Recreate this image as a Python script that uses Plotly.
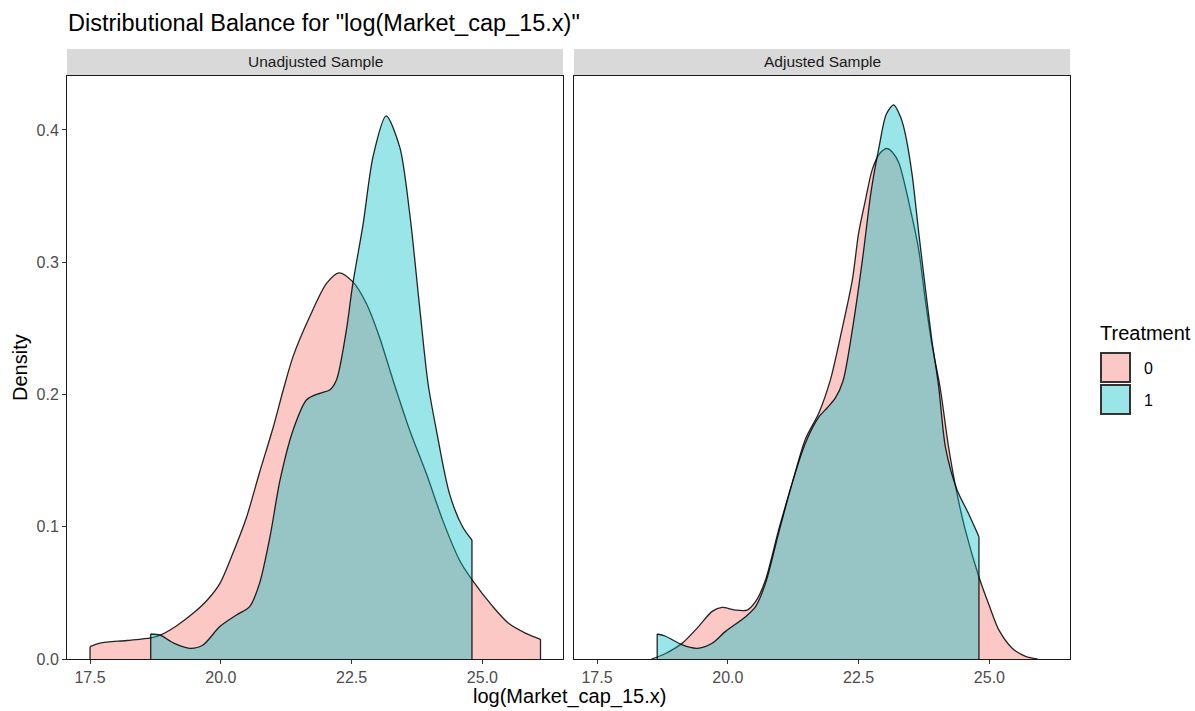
import plotly.graph_objects as go

# ---------------- data ----------------
panels = ["Unadjusted Sample", "Adjusted Sample"]
treatments = ["0", "1"]

unadj_t0_x = [17.5, 17.69, 18.2, 18.66, 18.84, 19.15, 19.47, 19.75, 19.98, 20.23, 20.49, 20.74, 21.0, 21.19,
              21.38, 21.7, 22.02, 22.26, 22.52, 22.78, 23.03, 23.29, 23.61, 23.93, 24.24, 24.56, 24.8, 25.2,
              25.5, 25.83, 26.11]
unadj_t0_y = [0.0093, 0.012, 0.014, 0.016, 0.018, 0.025, 0.0345, 0.045, 0.057, 0.080, 0.107, 0.141, 0.175, 0.203,
              0.2286, 0.2589, 0.284, 0.292, 0.2853, 0.269, 0.2437, 0.211, 0.173, 0.140, 0.105, 0.0749, 0.060, 0.0396,
              0.027, 0.0194, 0.0149]

unadj_t1_x = [18.66, 18.84, 19.1, 19.41, 19.66, 19.98, 20.3, 20.55, 20.74, 20.94, 21.13, 21.38, 21.64, 21.89,
              22.08, 22.21, 22.4, 22.52, 22.72, 22.91, 23.16, 23.42, 23.61, 23.8, 23.96, 24.12, 24.37, 24.62, 24.8]
unadj_t1_y = [0.0189, 0.018, 0.012, 0.0081, 0.0106, 0.0245, 0.0333, 0.0396, 0.0572, 0.0925, 0.135, 0.173, 0.196,
              0.2009, 0.2034, 0.211, 0.2488, 0.283, 0.329, 0.380, 0.4106, 0.387, 0.337, 0.266, 0.2085, 0.173,
              0.125, 0.100, 0.090]

adj_t0_x = [18.54, 18.8, 19.13, 19.44, 19.7, 19.89, 20.14, 20.37, 20.53, 20.72, 20.97, 21.23, 21.48, 21.74,
            21.96, 22.18, 22.38, 22.5, 22.63, 22.76, 22.9, 23.04, 23.15, 23.27, 23.52, 23.65, 23.78, 23.9, 24.06,
            24.22, 24.38, 24.54, 24.8, 25.0, 25.18, 25.44, 25.69, 25.92]
adj_t0_y = [0.0, 0.004, 0.012, 0.0245, 0.036, 0.039, 0.037, 0.037, 0.0433, 0.0597, 0.0975, 0.133, 0.166, 0.186,
            0.211, 0.2488, 0.2866, 0.322, 0.347, 0.370, 0.382, 0.386, 0.383, 0.375, 0.3345, 0.309, 0.270, 0.238,
            0.2047, 0.160, 0.125, 0.0975, 0.062, 0.040, 0.022, 0.008, 0.002, 0.0]

adj_t1_x = [18.65, 18.8, 19.13, 19.41, 19.7, 19.95, 20.34, 20.53, 20.72, 20.97, 21.23, 21.48, 21.74, 21.9,
            22.05, 22.2, 22.4, 22.58, 22.74, 22.89, 23.03, 23.17, 23.3, 23.39, 23.52, 23.65, 23.78, 23.9, 24.03,
            24.16, 24.38, 24.6, 24.8]
adj_t1_y = [0.0189, 0.0174, 0.0106, 0.0081, 0.0119, 0.0207, 0.032, 0.0396, 0.0572, 0.095, 0.133, 0.163, 0.183,
            0.190, 0.197, 0.210, 0.254, 0.304, 0.354, 0.387, 0.412, 0.419, 0.410, 0.3975, 0.367, 0.322, 0.279,
            0.241, 0.206, 0.160, 0.128, 0.110, 0.0925]

x_ticks = [17.5, 20.0, 22.5, 25.0]
y_ticks = [0.0, 0.1, 0.2, 0.3, 0.4]

fill_colors = {"0": "rgba(248,118,109,0.4)", "1": "rgba(0,191,196,0.4)"}

# ---------------- figure ----------------
W, H = 1195, 711
FONT = "Liberation Sans, Arial, sans-serif"
fig = go.Figure()

curves = [
    ("x", "y", "0", unadj_t0_x, unadj_t0_y),
    ("x", "y", "1", unadj_t1_x, unadj_t1_y),
    ("x2", "y2", "0", adj_t0_x, adj_t0_y),
    ("x2", "y2", "1", adj_t1_x, adj_t1_y),
]
for xa, ya, t, xs, ys in curves:
    fig.add_trace(go.Scatter(x=xs, y=ys, xaxis=xa, yaxis=ya, mode="lines", fill="tozeroy",
                             fillcolor=fill_colors[t],
                             line=dict(color="rgba(0,0,0,0.85)", width=1.3, shape="spline", smoothing=0.8),
                             showlegend=False, hoverinfo="skip"))
    # vertical edges of the density polygon at its ends
    fig.add_trace(go.Scatter(x=[xs[0], xs[0], None, xs[-1], xs[-1]], y=[0, ys[0], None, ys[-1], 0],
                             xaxis=xa, yaxis=ya, mode="lines",
                             line=dict(color="rgba(0,0,0,0.85)", width=1.3),
                             showlegend=False, hoverinfo="skip"))

px = lambda v: v / W
py = lambda v: 1 - v / H

xrange = [17.06, 26.54]
yrange = [0, 0.4408]
tickfont = dict(family=FONT, size=16, color="#4D4D4D")
axis_common = dict(range=xrange, tickvals=x_ticks, ticktext=[f"{v:.1f}" for v in x_ticks],
                   ticks="outside", ticklen=4, tickcolor="#333333", tickwidth=1,
                   showline=True, linecolor="#1a1a1a", linewidth=1, mirror=True,
                   showgrid=False, zeroline=False, automargin=False, tickfont=tickfont)
fig.update_layout(
    template="none",
    xaxis=dict(domain=[px(67), px(563)], anchor="y", **axis_common),
    xaxis2=dict(domain=[px(574), px(1070)], anchor="y2", **axis_common),
    yaxis=dict(domain=[py(659), py(76)], anchor="x", range=yrange, tickvals=y_ticks,
               ticktext=[f"{v:.1f}" for v in y_ticks], ticks="outside", ticklen=4, tickcolor="#333333",
               showline=True, linecolor="#1a1a1a", linewidth=1, mirror=True, showgrid=False, zeroline=False,
               automargin=False, tickfont=tickfont),
    yaxis2=dict(domain=[py(659), py(76)], anchor="x2", range=yrange, tickvals=y_ticks,
                showticklabels=False, ticks="", automargin=False,
                showline=True, linecolor="#1a1a1a", linewidth=1, mirror=True, showgrid=False, zeroline=False),
    width=W, height=H, margin=dict(l=0, r=0, t=0, b=0, pad=0),
    paper_bgcolor="white", plot_bgcolor="white",
    font=dict(family=FONT, color="black"),
)

shapes = []
annotations = []
# facet strips
for (x0, x1), label in zip([(67, 563), (574, 1070)], panels):
    shapes.append(dict(type="rect", xref="paper", yref="paper", x0=px(x0), x1=px(x1), y0=py(75), y1=py(49),
                       fillcolor="#D9D9D9", line=dict(width=0), layer="below"))
    annotations.append(dict(xref="paper", yref="paper", x=px((x0 + x1) / 2), y=py(62), text=label,
                            showarrow=False, font=dict(family=FONT, size=15.5, color="#1A1A1A"),
                            xanchor="center", yanchor="middle"))

# title & axis titles
annotations.append(dict(xref="paper", yref="paper", x=px(66), y=py(23), text='Distributional Balance for "log(Market_cap_15.x)"',
                        showarrow=False, font=dict(family=FONT, size=23.5, color="black"), xanchor="left", yanchor="middle"))
annotations.append(dict(xref="paper", yref="paper", x=px(20), y=py(368), text="Density", textangle=-90,
                        showarrow=False, font=dict(family=FONT, size=20, color="black"), xanchor="center", yanchor="middle"))
annotations.append(dict(xref="paper", yref="paper", x=px(569), y=py(696), text="log(Market_cap_15.x)",
                        showarrow=False, font=dict(family=FONT, size=20, color="black"), xanchor="center", yanchor="middle"))

# legend
annotations.append(dict(xref="paper", yref="paper", x=px(1098), y=py(333), text="Treatment",
                        showarrow=False, font=dict(family=FONT, size=20, color="black"), xanchor="left", yanchor="middle"))
for i, t in enumerate(treatments):
    top = 352 + i * 32
    shapes.append(dict(type="rect", xref="paper", yref="paper", x0=px(1101), x1=px(1130), y0=py(top + 30), y1=py(top + 1),
                       fillcolor=fill_colors[t], line=dict(color="#333333", width=2)))
    annotations.append(dict(xref="paper", yref="paper", x=px(1142), y=py(top + 16), text=t,
                            showarrow=False, font=dict(family=FONT, size=16, color="black"), xanchor="left", yanchor="middle"))

fig.update_layout(shapes=shapes, annotations=annotations)
fig.write_html("out.html")
